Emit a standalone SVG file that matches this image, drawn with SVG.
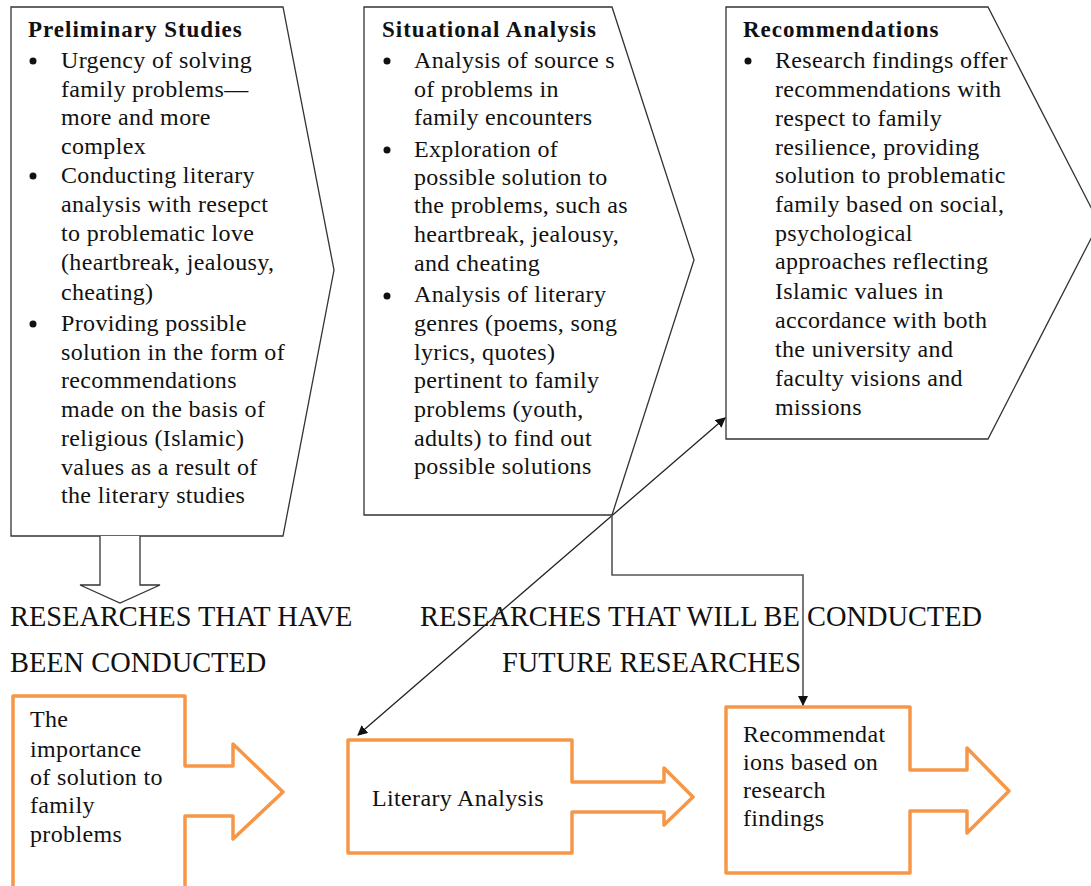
<svg xmlns="http://www.w3.org/2000/svg" width="1091" height="886" viewBox="0 0 1091 886">
  <style>
    .pent { fill: #fff; stroke: #333; stroke-width: 1.3; }
    .ttl { font-family: "Liberation Serif", "Times New Roman", serif; font-size: 23px; font-weight: bold; fill: #111; letter-spacing: 1px; }
    .body { font-family: "Liberation Serif", "Times New Roman", serif; font-size: 24px; fill: #111; letter-spacing: 0.35px; }
    .head { font-family: "Liberation Serif", "Times New Roman", serif; font-size: 28.4px; fill: #111; }
    .blt { fill: #111; }
    .orange { fill: #fff; stroke: #F79646; stroke-width: 3.5; stroke-linejoin: round; }
    .conn { fill: none; stroke: #222; stroke-width: 1.3; }
    .conn2 { fill: none; stroke: #555; stroke-width: 1.6; }
  </style>
  <defs>
    <marker id="ah" viewBox="0 0 10 10" refX="9" refY="5" markerWidth="10" markerHeight="10" markerUnits="userSpaceOnUse" orient="auto-start-reverse">
      <path d="M0,0 L10,5 L0,10 Z" fill="#111"/>
    </marker>
  </defs>

  <!-- Preliminary Studies -->
  <g id="preliminary-studies">
    <path class="pent" d="M11,7 L283,7 L334,270 L283,536 L11,536 Z"/>
    <text class="ttl" x="28" y="37">Preliminary Studies</text>
    <circle class="blt" cx="33" cy="61" r="3.5"/>
    <circle class="blt" cx="33" cy="176" r="3.5"/>
    <circle class="blt" cx="33" cy="324" r="3.5"/>
    <text class="body">
      <tspan x="61" y="68">Urgency of solving</tspan>
      <tspan x="61" y="97">family problems—</tspan>
      <tspan x="61" y="125">more and more</tspan>
      <tspan x="61" y="154">complex</tspan>
      <tspan x="61" y="183">Conducting literary</tspan>
      <tspan x="61" y="212">analysis with resepct</tspan>
      <tspan x="61" y="241">to problematic love</tspan>
      <tspan x="61" y="270">(heartbreak, jealousy,</tspan>
      <tspan x="61" y="300">cheating)</tspan>
      <tspan x="61" y="331">Providing possible</tspan>
      <tspan x="61" y="360">solution in the form of</tspan>
      <tspan x="61" y="388">recommendations</tspan>
      <tspan x="61" y="417">made on the basis of</tspan>
      <tspan x="61" y="446">religious (Islamic)</tspan>
      <tspan x="61" y="475">values as a result of</tspan>
      <tspan x="61" y="503">the literary studies</tspan>
    </text>
  </g>

  <!-- Situational Analysis -->
  <g id="situational-analysis">
    <path class="pent" d="M364,7 L612,7 L694,260 L612,515 L364,515 Z"/>
    <text class="ttl" x="382" y="37">Situational Analysis</text>
    <circle class="blt" cx="387" cy="61" r="3.5"/>
    <circle class="blt" cx="387" cy="150" r="3.5"/>
    <circle class="blt" cx="387" cy="296" r="3.5"/>
    <text class="body">
      <tspan x="414" y="68">Analysis of source s</tspan>
      <tspan x="414" y="97">of problems  in</tspan>
      <tspan x="414" y="125">family encounters</tspan>
      <tspan x="414" y="157">Exploration of</tspan>
      <tspan x="414" y="185">possible solution to</tspan>
      <tspan x="414" y="213">the problems, such as</tspan>
      <tspan x="414" y="242">heartbreak, jealousy,</tspan>
      <tspan x="414" y="271">and cheating</tspan>
      <tspan x="414" y="302">Analysis of literary</tspan>
      <tspan x="414" y="331">genres (poems, song</tspan>
      <tspan x="414" y="360">lyrics, quotes)</tspan>
      <tspan x="414" y="388">pertinent to family</tspan>
      <tspan x="414" y="417">problems (youth,</tspan>
      <tspan x="414" y="446">adults) to find out</tspan>
      <tspan x="414" y="474">possible solutions</tspan>
    </text>
  </g>

  <!-- Recommendations -->
  <g id="recommendations">
    <path class="pent" d="M726,7 L988,7 L1099,223 L988,439 L726,439 Z"/>
    <text class="ttl" x="743" y="37">Recommendations</text>
    <circle class="blt" cx="748" cy="61" r="3.5"/>
    <text class="body">
      <tspan x="775" y="68">Research findings offer</tspan>
      <tspan x="775" y="97">recommendations with</tspan>
      <tspan x="775" y="126">respect to family</tspan>
      <tspan x="775" y="155">resilience, providing</tspan>
      <tspan x="775" y="183">solution to problematic</tspan>
      <tspan x="775" y="212">family based on social,</tspan>
      <tspan x="775" y="241">psychological</tspan>
      <tspan x="775" y="269">approaches reflecting</tspan>
      <tspan x="775" y="299">Islamic values in</tspan>
      <tspan x="775" y="328">accordance with both</tspan>
      <tspan x="775" y="357">the university and</tspan>
      <tspan x="775" y="386">faculty visions and</tspan>
      <tspan x="775" y="415">missions</tspan>
    </text>
  </g>

  <!-- hollow down arrow under the first block -->
  <g id="down-arrow">
    <path d="M100,536 L100,585 L80,585 L120,603 L160,585 L140,585 L140,536" fill="#fff" stroke="#333" stroke-width="1.3"/>
  </g>

  <!-- section headings -->
  <g id="headings">
    <text class="head" x="10" y="626">RESEARCHES THAT HAVE</text>
    <text class="head" x="10" y="672">BEEN CONDUCTED</text>
    <text class="head" x="420" y="626">RESEARCHES THAT WILL BE CONDUCTED</text>
    <text class="head" x="502" y="672">FUTURE RESEARCHES</text>
  </g>

  <!-- bottom orange arrow boxes -->
  <g id="importance">
    <path class="orange" d="M13,890 L13,696 L185,696 L185,766 L233,766 L233,744 L283,792 L233,839 L233,816 L185,816 L185,890"/>
    <text class="body">
      <tspan x="30" y="727">The</tspan>
      <tspan x="30" y="757">importance</tspan>
      <tspan x="30" y="785">of solution to</tspan>
      <tspan x="30" y="813">family</tspan>
      <tspan x="30" y="842">problems</tspan>
    </text>
  </g>

  <g id="literary-analysis">
    <path class="orange" d="M348,740 L572,740 L572,782 L664,782 L664,768 L693,797 L664,825 L664,812 L572,812 L572,853 L348,853 Z"/>
    <text class="body" x="372" y="806">Literary Analysis</text>
  </g>

  <g id="recommendations-findings">
    <path class="orange" d="M726,707 L910,707 L910,770 L967,770 L967,748 L1009,791 L967,833 L967,811 L910,811 L910,873 L726,873 Z"/>
    <text class="body">
      <tspan x="743" y="742">Recommendat</tspan>
      <tspan x="743" y="770">ions based on</tspan>
      <tspan x="743" y="798">research</tspan>
      <tspan x="743" y="826">findings</tspan>
    </text>
  </g>

  <!-- connectors -->
  <g id="connectors">
    <path class="conn" d="M358,735 L725,418" marker-start="url(#ah)" marker-end="url(#ah)"/>
    <path class="conn2" d="M612,515 V575 H803 V705" marker-end="url(#ah)"/>
  </g>
</svg>
